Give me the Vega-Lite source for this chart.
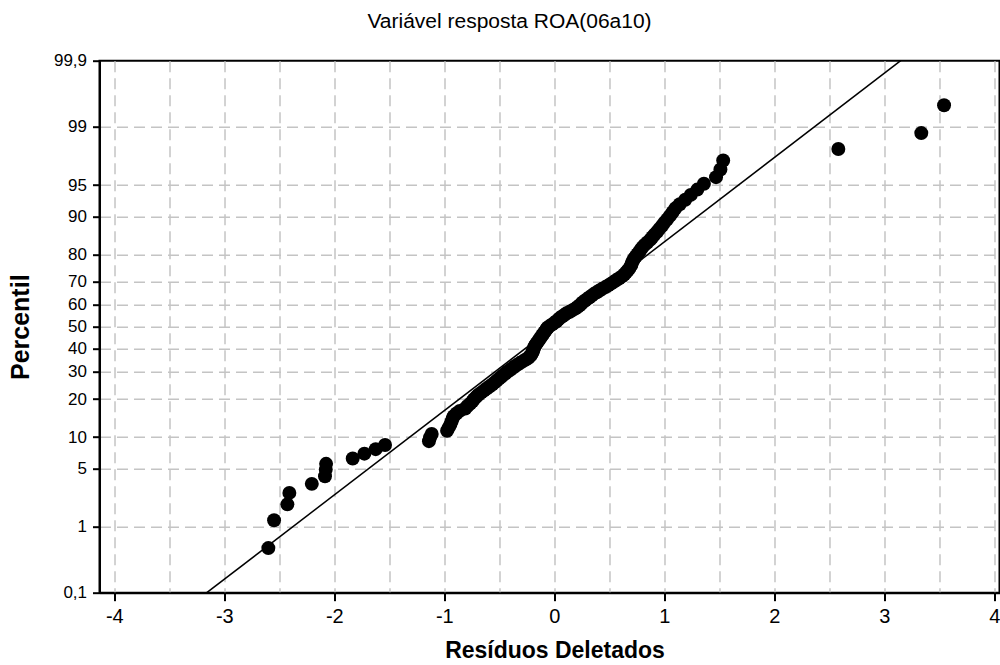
{
  "$schema": "https://vega.github.io/schema/vega-lite/v6.json",
  "width": 900,
  "height": 532,
  "autosize": {"type": "none"},
  "padding": {"left": 99.5, "top": 60.7, "right": 0, "bottom": 72},
  "background": "white",
  "config": {
    "view": {"stroke": "black", "strokeWidth": 2},
    "font": "Liberation Sans"
  },
  "title": {
    "text": "Variável resposta ROA(06a10)",
    "fontSize": 21,
    "fontWeight": "normal",
    "font": "Liberation Sans",
    "color": "black",
    "anchor": "middle",
    "dx": -40,
    "offset": 20
  },
  "datasets": {
    "pts": [
      {"r": -2.600, "z": -2.572}, {"r": -2.548, "z": -2.249}, {"r": -2.427, "z": -2.064}, {"r": -2.409, "z": -1.931},
      {"r": -2.205, "z": -1.826}, {"r": -2.085, "z": -1.737}, {"r": -2.078, "z": -1.660}, {"r": -2.075, "z": -1.593},
      {"r": -1.833, "z": -1.531}, {"r": -1.727, "z": -1.475}, {"r": -1.624, "z": -1.423}, {"r": -1.539, "z": -1.375},
      {"r": -1.140, "z": -1.330}, {"r": -1.130, "z": -1.287}, {"r": -1.115, "z": -1.247}, {"r": -0.975, "z": -1.209},
      {"r": -0.960, "z": -1.172}, {"r": -0.945, "z": -1.137}, {"r": -0.935, "z": -1.103}, {"r": -0.925, "z": -1.070},
      {"r": -0.915, "z": -1.039}, {"r": -0.890, "z": -1.008}, {"r": -0.860, "z": -0.978}, {"r": -0.810, "z": -0.950},
      {"r": -0.790, "z": -0.921}, {"r": -0.765, "z": -0.894}, {"r": -0.745, "z": -0.867}, {"r": -0.730, "z": -0.841},
      {"r": -0.710, "z": -0.815}, {"r": -0.690, "z": -0.790}, {"r": -0.665, "z": -0.766}, {"r": -0.640, "z": -0.742},
      {"r": -0.615, "z": -0.718}, {"r": -0.590, "z": -0.695}, {"r": -0.565, "z": -0.672}, {"r": -0.545, "z": -0.650},
      {"r": -0.525, "z": -0.628}, {"r": -0.505, "z": -0.606}, {"r": -0.485, "z": -0.584}, {"r": -0.465, "z": -0.563},
      {"r": -0.445, "z": -0.542}, {"r": -0.425, "z": -0.521}, {"r": -0.400, "z": -0.500}, {"r": -0.380, "z": -0.480},
      {"r": -0.360, "z": -0.460}, {"r": -0.335, "z": -0.440}, {"r": -0.310, "z": -0.420}, {"r": -0.285, "z": -0.400},
      {"r": -0.260, "z": -0.381}, {"r": -0.235, "z": -0.361}, {"r": -0.220, "z": -0.342}, {"r": -0.210, "z": -0.323},
      {"r": -0.200, "z": -0.304}, {"r": -0.195, "z": -0.285}, {"r": -0.190, "z": -0.266}, {"r": -0.185, "z": -0.247},
      {"r": -0.180, "z": -0.229}, {"r": -0.170, "z": -0.210}, {"r": -0.160, "z": -0.192}, {"r": -0.150, "z": -0.173},
      {"r": -0.140, "z": -0.155}, {"r": -0.130, "z": -0.136}, {"r": -0.120, "z": -0.118}, {"r": -0.110, "z": -0.100},
      {"r": -0.100, "z": -0.082}, {"r": -0.090, "z": -0.063}, {"r": -0.080, "z": -0.045}, {"r": -0.070, "z": -0.027},
      {"r": -0.060, "z": -0.009}, {"r": -0.040, "z": 0.009}, {"r": -0.020, "z": 0.027}, {"r": 0.000, "z": 0.045},
      {"r": 0.020, "z": 0.063}, {"r": 0.035, "z": 0.082}, {"r": 0.050, "z": 0.100}, {"r": 0.070, "z": 0.118},
      {"r": 0.090, "z": 0.136}, {"r": 0.110, "z": 0.155}, {"r": 0.140, "z": 0.173}, {"r": 0.165, "z": 0.192},
      {"r": 0.190, "z": 0.210}, {"r": 0.210, "z": 0.229}, {"r": 0.230, "z": 0.247}, {"r": 0.245, "z": 0.266},
      {"r": 0.260, "z": 0.285}, {"r": 0.280, "z": 0.304}, {"r": 0.300, "z": 0.323}, {"r": 0.320, "z": 0.342},
      {"r": 0.340, "z": 0.361}, {"r": 0.360, "z": 0.381}, {"r": 0.385, "z": 0.400}, {"r": 0.410, "z": 0.420},
      {"r": 0.435, "z": 0.440}, {"r": 0.465, "z": 0.460}, {"r": 0.490, "z": 0.480}, {"r": 0.515, "z": 0.500},
      {"r": 0.540, "z": 0.521}, {"r": 0.565, "z": 0.542}, {"r": 0.590, "z": 0.563}, {"r": 0.615, "z": 0.584},
      {"r": 0.635, "z": 0.606}, {"r": 0.650, "z": 0.628}, {"r": 0.665, "z": 0.650}, {"r": 0.680, "z": 0.672},
      {"r": 0.690, "z": 0.695}, {"r": 0.700, "z": 0.718}, {"r": 0.705, "z": 0.742}, {"r": 0.715, "z": 0.766},
      {"r": 0.725, "z": 0.790}, {"r": 0.740, "z": 0.815}, {"r": 0.755, "z": 0.841}, {"r": 0.770, "z": 0.867},
      {"r": 0.785, "z": 0.894}, {"r": 0.800, "z": 0.921}, {"r": 0.820, "z": 0.950}, {"r": 0.845, "z": 0.978},
      {"r": 0.870, "z": 1.008}, {"r": 0.890, "z": 1.039}, {"r": 0.910, "z": 1.070}, {"r": 0.935, "z": 1.103},
      {"r": 0.955, "z": 1.137}, {"r": 0.980, "z": 1.172}, {"r": 1.000, "z": 1.209}, {"r": 1.025, "z": 1.247},
      {"r": 1.050, "z": 1.287}, {"r": 1.075, "z": 1.330}, {"r": 1.100, "z": 1.375}, {"r": 1.140, "z": 1.423},
      {"r": 1.190, "z": 1.475}, {"r": 1.240, "z": 1.531}, {"r": 1.300, "z": 1.593}, {"r": 1.360, "z": 1.660},
      {"r": 1.470, "z": 1.737}, {"r": 1.510, "z": 1.826}, {"r": 1.535, "z": 1.931}, {"r": 2.582, "z": 2.064},
      {"r": 3.336, "z": 2.249}, {"r": 3.543, "z": 2.572}
    ],
    "ref": [
      {"r": -3.160, "z": -3.0902},
      {"r": 3.149, "z": 3.0902}
    ]
  },
  "encoding": {
    "x": {
      "field": "r",
      "type": "quantitative",
      "scale": {"domain": [-4.135, 4.047], "nice": false, "zero": false},
      "axis": {
        "title": "Resíduos Deletados",
        "titleFont": "Liberation Sans",
        "titleFontSize": 23,
        "titleFontWeight": "bold",
        "titleColor": "black",
        "titleX": 455,
        "titleY": 58,
        "titleBaseline": "middle",
        "values": [-4, -3.5, -3, -2.5, -2, -1.5, -1, -0.5, 0, 0.5, 1, 1.5, 2, 2.5, 3, 3.5, 4],
        "labelExpr": "datum.value % 1 === 0 ? '' + datum.value : ''",
        "labelFont": "Liberation Sans",
        "labelFontSize": 20,
        "labelColor": "black",
        "labelPadding": 6,
        "labelFlush": false,
        "labelOverlap": false,
        "tickSize": 8,
        "tickWidth": 2,
        "tickColor": "black",
        "tickOpacity": {"condition": {"test": "datum.value % 1 !== 0", "value": 0}, "value": 1},
        "domainColor": "black",
        "domainWidth": 2,
        "grid": true,
        "gridColor": "#c4c4c4",
        "gridWidth": 1.5,
        "gridDash": [11, 6]
      }
    },
    "y": {
      "field": "z",
      "type": "quantitative",
      "scale": {"domain": [-3.0902, 3.0902], "nice": false, "zero": false},
      "axis": {
        "title": "Percentil",
        "titleFont": "Liberation Sans",
        "titleFontSize": 25,
        "titleFontWeight": "bold",
        "titleColor": "black",
        "titleAngle": 270,
        "titleX": -79,
        "titleY": 266,
        "titleAlign": "center",
        "titleBaseline": "middle",
        "values": [-3.0902, -2.3263, -1.6449, -1.2816, -0.8416, -0.5244, -0.2533, 0, 0.2533, 0.5244, 0.8416, 1.2816, 1.6449, 2.3263, 3.0902],
        "labelExpr": "datum.value < -3 ? '0,1' : datum.value < -2 ? '1' : datum.value < -1.5 ? '5' : datum.value < -1 ? '10' : datum.value < -0.6 ? '20' : datum.value < -0.4 ? '30' : datum.value < -0.1 ? '40' : datum.value < 0.1 ? '50' : datum.value < 0.4 ? '60' : datum.value < 0.6 ? '70' : datum.value < 1 ? '80' : datum.value < 1.5 ? '90' : datum.value < 2 ? '95' : datum.value < 3 ? '99' : '99,9'",
        "labelFont": "Liberation Sans",
        "labelFontSize": 17,
        "labelColor": "black",
        "labelPadding": 6,
        "labelFlush": false,
        "labelOverlap": false,
        "tickSize": 7,
        "tickWidth": 2,
        "tickColor": "black",
        "domainColor": "black",
        "domainWidth": 2,
        "grid": true,
        "gridColor": "#c4c4c4",
        "gridWidth": 1.5,
        "gridDash": [11, 6],
        "gridOpacity": {"condition": {"test": "abs(datum.value) > 3", "value": 0}, "value": 1}
      }
    }
  },
  "layer": [
    {
      "data": {"name": "ref"},
      "mark": {"type": "line", "color": "black", "strokeWidth": 1.5, "clip": true}
    },
    {
      "data": {"name": "pts"},
      "mark": {"type": "circle", "color": "black", "size": 195, "opacity": 1}
    }
  ]
}
